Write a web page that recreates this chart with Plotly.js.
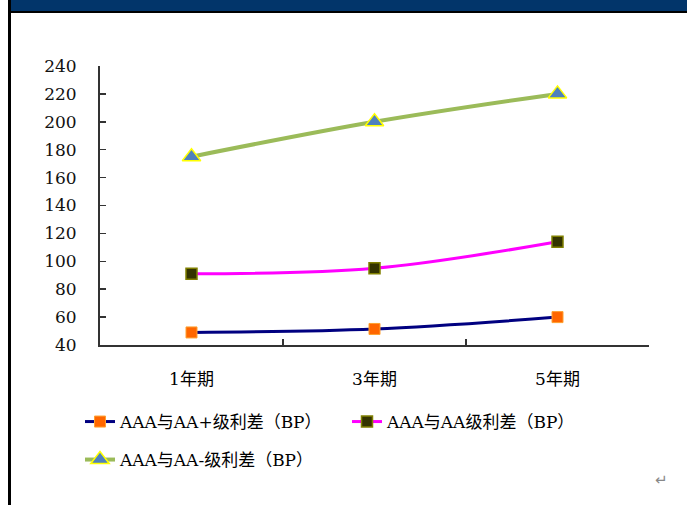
<!DOCTYPE html>
<html>
<head>
<meta charset="utf-8">
<script src="https://cdn.plot.ly/plotly-3.0.1.min.js"></script>
<style>
  html, body { margin: 0; padding: 0; background: #ffffff; }
  #chart { width: 687px; height: 505px; }
</style>
</head>
<body>
<div id="chart"></div>
<script>
// Tenor buckets on the x axis
const tenors = ['1年期', '3年期', '5年期'];

// Credit spreads (basis points)
const spreadAAplus = [49, 51.5, 60];
const spreadAA = [91, 95, 114];
const spreadAAminus = [175, 200, 220];

const seriesNames = ['AAA与AA+级利差（BP）', 'AAA与AA级利差（BP）', 'AAA与AA-级利差（BP）'];

const yTicks = [40, 60, 80, 100, 120, 140, 160, 180, 200, 220, 240];

// Page geometry (pixels) used to place the frame decorations
const W = 687, H = 505;
const M = { l: 100, r: 38, t: 66, b: 160 };
const plotW = W - M.l - M.r;
const plotH = H - M.t - M.b;
const px = x => (x - M.l) / plotW;
const py = y => 1 - (y - M.t) / plotH;

const serif = '"DejaVu Serif", "Noto Sans CJK SC", serif';

const traces = [
  {
    x: tenors, y: spreadAAplus, name: seriesNames[0],
    type: 'scatter', mode: 'lines+markers',
    line: { color: '#000080', width: 3, shape: 'spline' },
    marker: { symbol: 'square', size: 11, color: '#FF6600', line: { color: '#FFA030', width: 1 } },
    legend: 'legend'
  },
  {
    x: tenors, y: spreadAA, name: seriesNames[1],
    type: 'scatter', mode: 'lines+markers',
    line: { color: '#FF00FF', width: 3, shape: 'spline' },
    marker: { symbol: 'square', size: 11, color: '#333300', line: { color: '#808000', width: 1.5 } },
    legend: 'legend'
  },
  {
    x: tenors, y: spreadAAminus, name: seriesNames[2],
    type: 'scatter', mode: 'lines+markers',
    line: { color: '#9BBB59', width: 4, shape: 'spline' },
    marker: { symbol: 'triangle-up', size: 16, color: '#4F81BD', line: { color: '#FFFF00', width: 1.5 } },
    legend: 'legend2'
  }
];

const legendCommon = {
  orientation: 'h',
  xanchor: 'left', yanchor: 'top',
  font: { family: serif, size: 17, color: '#000000' },
  bgcolor: 'rgba(0,0,0,0)',
  itemclick: false, itemdoubleclick: false
};

const layout = {
  width: W, height: H,
  margin: M,
  paper_bgcolor: '#ffffff',
  plot_bgcolor: '#ffffff',
  showlegend: true,
  font: { family: serif, size: 16, color: '#000000' },
  xaxis: {
    type: 'category',
    range: [-0.5, 2.5],
    showline: true, linecolor: '#333333', linewidth: 2,
    ticks: 'inside', tickson: 'boundaries', ticklen: 6, tickwidth: 1.5, tickcolor: '#333333',
    showgrid: false, zeroline: false,
    ticklabelstandoff: 18,
    tickfont: { family: serif, size: 17, color: '#000000' }
  },
  yaxis: {
    range: [40, 240],
    tickvals: yTicks,
    showline: true, linecolor: '#333333', linewidth: 2,
    ticks: 'inside', ticklen: 6, tickwidth: 1.5, tickcolor: '#333333',
    showgrid: false, zeroline: false,
    ticklabelstandoff: 18,
    tickfont: { family: serif, size: 17, color: '#111111' }
  },
  legend: Object.assign({}, legendCommon, { x: px(80), y: py(404), entrywidth: 222 }),
  legend2: Object.assign({}, legendCommon, { x: px(80), y: py(442) }),
  shapes: [
    // navy header band
    { type: 'rect', xref: 'paper', yref: 'paper', x0: px(10), x1: px(W + 2), y0: py(11), y1: py(-2),
      fillcolor: '#02356A', line: { width: 0 }, layer: 'above' },
    // dark rule under the band
    { type: 'line', xref: 'paper', yref: 'paper', x0: px(10), x1: px(W + 2), y0: py(12), y1: py(12),
      line: { color: '#000000', width: 2 } },
    // left frame edge
    { type: 'line', xref: 'paper', yref: 'paper', x0: px(9.5), x1: px(9.5), y0: py(-2), y1: py(H + 2),
      line: { color: '#000000', width: 3 } }
  ],
  annotations: [
    { text: '↵', xref: 'paper', yref: 'paper', x: px(670), y: py(491), showarrow: false,
      font: { family: '"DejaVu Sans", sans-serif', size: 15, color: '#888888' } }
  ]
};

Plotly.newPlot('chart', traces, layout, { displayModeBar: false, staticPlot: true });
</script>
</body>
</html>
